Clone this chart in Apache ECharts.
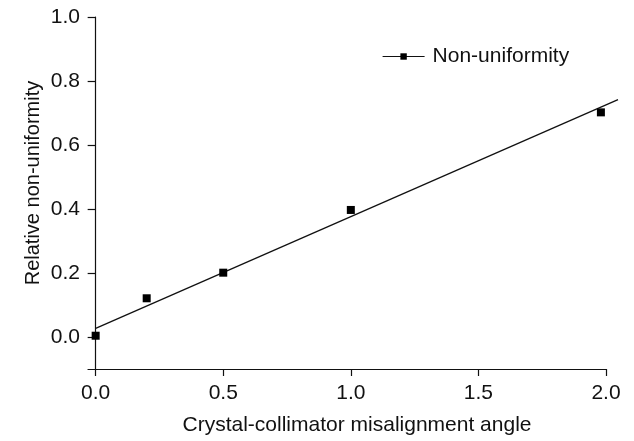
<!DOCTYPE html>
<html>
<head>
<meta charset="utf-8">
<script src="https://cdn.jsdelivr.net/npm/echarts@6/dist/echarts.min.js"></script>
<style>
  html, body { margin: 0; padding: 0; background: #fff; }
  #chart { width: 634px; height: 441px; }
</style>
</head>
<body>
<div id="chart"></div>
<script>
// measured points
const angle = [0, 0.2, 0.5, 1.0, 1.98]
const nonUniformity = [0.004, 0.121, 0.201, 0.397, 0.702]
// linear fit, end points
const fitX = [0, 2.048]
const fitY = [0.027, 0.742]
const xTicks = [0, 0.5, 1.0, 1.5, 2.0]
const yTicks = [0, 0.2, 0.4, 0.6, 0.8, 1.0]

const font = 'Liberation Sans, Arial, Helvetica, sans-serif'
const ink = '#111'
const xMin = -0.03

const chart = echarts.init(document.getElementById('chart'))
chart.setOption({
  animation: false,
  grid: [
    { left: 88, right: 28, top: 17, bottom: 72 },
    // same plot box, stretched right so the fit line can run past 2.0
    { left: 88, right: 16, top: 17, bottom: 72 }
  ],
  legend: {
    data: ['Non-uniformity'],
    left: 382,
    top: 46,
    padding: 0,
    itemWidth: 42,
    itemHeight: 8,
    textStyle: {
      color: ink,
      fontSize: 21,
      fontFamily: font,
      padding: [0, 0, 0, 3]
    },
    lineStyle: {
      color: ink,
      width: 1.2,
      opacity: 1
    }
  },
  xAxis: [
    {
      type: 'value',
      min: xMin,
      max: 2.0,
      name: 'Crystal-collimator misalignment angle',
      nameLocation: 'middle',
      nameGap: 46,
      nameTextStyle: { color: ink, fontSize: 21, fontFamily: font, padding: [0, 0, 0, 20] },
      axisLine: { onZero: false, lineStyle: { color: ink, width: 1.2 } },
      axisTick: { customValues: xTicks, length: 7, lineStyle: { color: ink, width: 1.2 } },
      axisLabel: {
        customValues: xTicks,
        margin: 14,
        color: ink,
        fontSize: 21,
        fontFamily: font,
        formatter: v => v.toFixed(1)
      },
      splitLine: { show: false }
    },
    {
      type: 'value',
      gridIndex: 1,
      min: xMin,
      max: fitX[1],
      show: false
    }
  ],
  yAxis: [
    {
      type: 'value',
      min: -0.1,
      max: 1.0,
      name: 'Relative non-uniformity',
      nameLocation: 'middle',
      nameGap: 45,
      nameMoveOverlap: false,
      nameTextStyle: { color: ink, fontSize: 20, fontFamily: font, padding: [0, 0, 0, 20] },
      axisLine: { onZero: true, lineStyle: { color: ink, width: 1.2 } },
      axisTick: { customValues: yTicks, length: 8, lineStyle: { color: ink, width: 1.2 } },
      axisLabel: {
        customValues: yTicks,
        margin: 8,
        color: ink,
        fontSize: 21,
        fontFamily: font,
        formatter: v => v.toFixed(1)
      },
      splitLine: { show: false }
    },
    {
      type: 'value',
      gridIndex: 1,
      min: -0.1,
      max: 1.0,
      show: false
    }
  ],
  series: [
    {
      name: 'fit',
      type: 'line',
      xAxisIndex: 1,
      yAxisIndex: 1,
      data: fitX.map((x, i) => [x, fitY[i]]),
      symbol: 'none',
      silent: true,
      lineStyle: { color: ink, width: 1.3 },
      z: 2
    },
    {
      name: 'Non-uniformity',
      type: 'line',
      data: angle.map((x, i) => [x, nonUniformity[i]]),
      symbol: 'rect',
      symbolSize: 8,
      itemStyle: { color: '#000' },
      lineStyle: { opacity: 0, width: 0 },
      z: 3
    }
  ]
})
</script>
</body>
</html>
